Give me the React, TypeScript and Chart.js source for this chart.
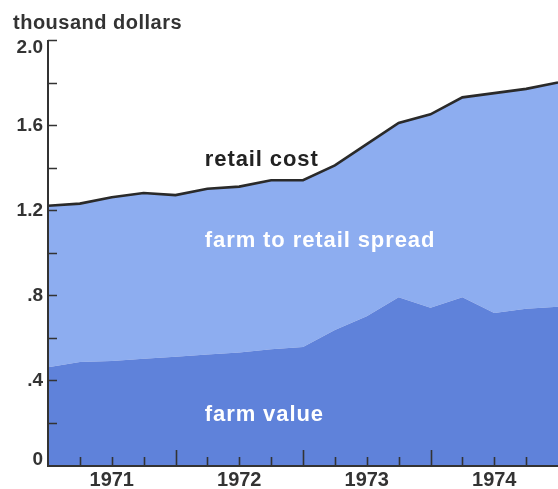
import React, { useEffect, useRef } from "react";
import { Chart, registerables } from "chart.js";

Chart.register(...registerables);

// Quarterly observations (year fractions)
const quarters = [1971, 1971.25, 1971.5, 1971.75, 1972, 1972.25, 1972.5, 1972.75, 1973, 1973.25, 1973.5, 1973.75, 1974, 1974.25, 1974.5, 1974.75, 1975];
// thousand dollars
const retailCost = [1.22, 1.23, 1.26, 1.28, 1.27, 1.3, 1.31, 1.34, 1.34, 1.41, 1.51, 1.61, 1.65, 1.73, 1.75, 1.77, 1.8];
const farmValue = [0.46, 0.485, 0.49, 0.5, 0.51, 0.52, 0.53, 0.545, 0.555, 0.635, 0.7, 0.79, 0.74, 0.79, 0.715, 0.735, 0.745];

const yearTicks = [1971.5, 1972.5, 1973.5, 1974.5];
const yearLabels = ["1971", "1972", "1973", "1974"];
const yTicks = [0, 0.4, 0.8, 1.2, 1.6, 2.0];
const yTickLabels = ["0", ".4", ".8", "1.2", "1.6", "2.0"];
const yMinorTicks = [0.2, 0.4, 0.6, 0.8, 1.0, 1.2, 1.4, 1.6, 1.8, 2.0];
const xMinorTicks = [1971.25, 1971.5, 1971.75, 1972, 1972.25, 1972.5, 1972.75, 1973, 1973.25, 1973.5, 1973.75, 1974, 1974.25, 1974.5, 1974.75];
const xMajorTicks = [1972, 1973, 1974];

const FONT = "'Liberation Sans', Arial, Helvetica, sans-serif";
const INK = "#333333";
const LIGHT = "#8dadf0";
const DARK = "#5f82da";

const decorPlugin = {
  id: "decor",
  afterDatasetsDraw(chart: any) {
    const { ctx, chartArea, scales } = chart;
    const x = scales.x;
    const y = scales.y;
    ctx.save();
    ctx.strokeStyle = INK;
    ctx.lineWidth = 1.6;
    ctx.beginPath();
    for (const v of yMinorTicks) {
      const py = Math.round(y.getPixelForValue(v)) + 0.5;
      ctx.moveTo(chartArea.left, py);
      ctx.lineTo(chartArea.left + 9, py);
    }
    for (const q of xMinorTicks) {
      const px = Math.round(x.getPixelForValue(q)) + 0.5;
      const len = xMajorTicks.includes(q) ? 15 : 8;
      ctx.moveTo(px, chartArea.bottom);
      ctx.lineTo(px, chartArea.bottom - len);
    }
    ctx.stroke();
    // axis lines
    ctx.lineWidth = 2;
    ctx.beginPath();
    ctx.moveTo(chartArea.left, chartArea.top);
    ctx.lineTo(chartArea.left, chartArea.bottom + 1);
    ctx.lineTo(chartArea.right, chartArea.bottom + 1);
    ctx.stroke();

    // y tick labels, kept inside the axis frame
    ctx.fillStyle = INK;
    ctx.font = `bold 19px ${FONT}`;
    ctx.textAlign = "right";
    ctx.textBaseline = "middle";
    yTicks.forEach((v, i) => {
      let py = y.getPixelForValue(v);
      py = Math.max(chartArea.top + 7, Math.min(chartArea.bottom - 6, py));
      ctx.fillText(yTickLabels[i], chartArea.left - 5, py + 1);
    });

    // in-chart labels
    ctx.textBaseline = "alphabetic";
    ctx.textAlign = "left";
    ctx.font = `bold 22px ${FONT}`;
    (ctx as any).letterSpacing = "0.9px";
    ctx.fillStyle = "#222222";
    ctx.fillText("retail cost", x.getPixelForValue(1972.23), y.getPixelForValue(1.407));
    ctx.fillStyle = "#ffffff";
    ctx.fillText("farm to retail spread", x.getPixelForValue(1972.23), y.getPixelForValue(1.026));
    ctx.fillText("farm value", x.getPixelForValue(1972.23), y.getPixelForValue(0.207));

    // unit title
    ctx.fillStyle = INK;
    ctx.font = `bold 20px ${FONT}`;
    (ctx as any).letterSpacing = "0.5px";
    ctx.fillText("thousand dollars", 13, 29);
    ctx.restore();
  },
};

export default function App() {
  const ref = useRef<HTMLCanvasElement>(null);
  useEffect(() => {
    if (!ref.current) return;
    const chart = new Chart(ref.current, {
      type: "line",
      data: {
        datasets: [
          {
            label: "farm value",
            data: quarters.map((q, i) => ({ x: q, y: farmValue[i] })),
            borderWidth: 0,
            borderColor: DARK,
            backgroundColor: DARK,
            fill: "origin",
            pointRadius: 0,
            tension: 0,
          },
          {
            label: "retail cost",
            data: quarters.map((q, i) => ({ x: q, y: retailCost[i] })),
            borderWidth: 2.6,
            borderColor: "#2a2a2a",
            backgroundColor: LIGHT,
            fill: "-1",
            pointRadius: 0,
            tension: 0,
          },
        ],
      },
      options: {
        animation: false,
        responsive: true,
        maintainAspectRatio: false,
        layout: { padding: { top: 40, right: 0, left: 0, bottom: 0 } },
        plugins: { legend: { display: false }, tooltip: { enabled: false } },
        scales: {
          x: {
            type: "linear",
            min: 1971,
            max: 1975,
            grid: { display: false, drawTicks: false },
            border: { display: false },
            afterBuildTicks: (s: any) => {
              s.ticks = yearTicks.map((v) => ({ value: v }));
            },
            afterFit: (s: any) => {
              s.height = 24;
            },
            ticks: {
              autoSkip: false,
              maxRotation: 0,
              padding: 3,
              color: INK,
              font: { family: FONT, size: 20, weight: "bold" },
              callback: (_v: any, i: number) => yearLabels[i],
            },
          },
          y: {
            min: 0,
            max: 2,
            grid: { display: false, drawTicks: false },
            border: { display: false },
            afterBuildTicks: (s: any) => {
              s.ticks = yTicks.map((v) => ({ value: v }));
            },
            afterFit: (s: any) => {
              s.width = 48;
            },
            ticks: {
              display: false,
            },
          },
        },
      },
      plugins: [decorPlugin],
    });
    return () => chart.destroy();
  }, []);
  return (
    <div style={{ position: "fixed", left: 0, top: 0, width: 558, height: 489, background: "#ffffff" }}>
      <canvas ref={ref} />
    </div>
  );
}
